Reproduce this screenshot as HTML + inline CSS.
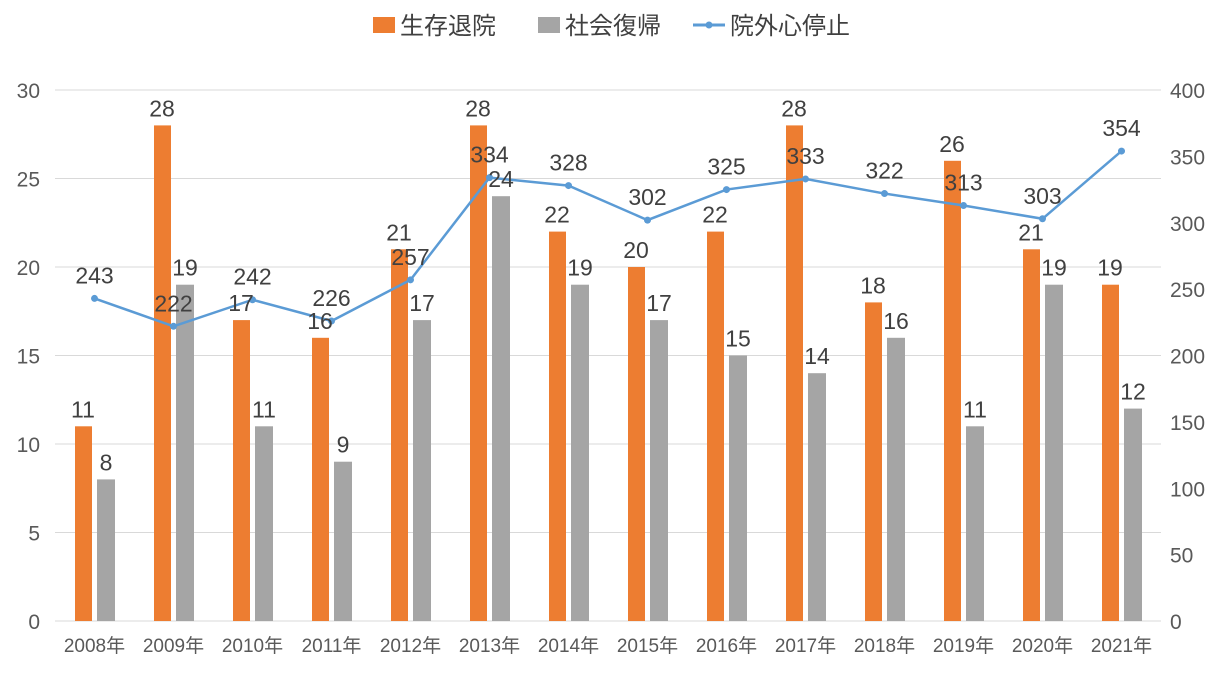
<!DOCTYPE html>
<html><head><meta charset="utf-8"><style>
body{margin:0;background:#fff;}
svg text{font-family:"Liberation Sans","Noto Sans CJK JP",sans-serif;}
</style></head><body>
<svg width="1222" height="677" xmlns="http://www.w3.org/2000/svg">
<g font-size="24" fill="#404040">
 <rect x="373" y="17" width="22" height="16" fill="#ED7D31"/>
 <text x="400" y="34">生存退院</text>
 <rect x="538" y="17" width="22" height="16" fill="#A5A5A5"/>
 <text x="565" y="34">社会復帰</text>
 <line x1="693" y1="25" x2="725" y2="25" stroke="#5B9BD5" stroke-width="3"/>
 <circle cx="709" cy="25" r="3.5" fill="#5B9BD5"/>
 <text x="730" y="34">院外心停止</text>
</g>
<g id="grid"></g><g id="bars"></g><g id="line"></g><g id="labels"></g>
</svg>
<script>
const categories=["2008年","2009年","2010年","2011年","2012年","2013年","2014年","2015年","2016年","2017年","2018年","2019年","2020年","2021年"];
const survival=[11,28,17,16,21,28,22,20,22,28,18,26,21,19];
const socialReturn=[8,19,11,9,17,24,19,17,15,14,16,11,19,12];
const arrest=[243,222,242,226,257,334,328,302,325,333,322,313,303,354];
const leftTicks=[0,5,10,15,20,25,30];
const rightTicks=[0,50,100,150,200,250,300,350,400];
const NS="http://www.w3.org/2000/svg";
const x0=55,cw=79,yb=621,yt=90;
const yL=v=>yb-(v/30)*(yb-yt);
const yR=v=>yb-(v/400)*(yb-yt);
function mk(tag,attrs,parent,txt){const e=document.createElementNS(NS,tag);for(const k in attrs)e.setAttribute(k,attrs[k]);if(txt!==undefined)e.textContent=txt;document.getElementById(parent).appendChild(e);return e;}
leftTicks.forEach(t=>{
 const l=mk('line',{x1:x0,x2:x0+14*cw,y1:yL(t),y2:yL(t),stroke:'#D9D9D9','stroke-width':1},'grid');
 
 
 const tx=mk('text',{x:40,y:yL(t)+8,'text-anchor':'end','font-size':21,fill:'#595959'},'grid',t);
 
 
});
rightTicks.forEach(t=>{
 const tx=mk('text',{x:1170,y:yR(t)+8,'font-size':21,fill:'#595959'},'grid',t);
 
 
});
categories.forEach((c,i)=>{
 const cx=x0+i*cw;
 const t=mk('text',{x:cx+cw/2,y:652,'text-anchor':'middle','font-size':19,fill:'#595959'},'grid',c);
 
 
 const b1=mk('rect',{x:cx+20,y:yL(survival[i]),width:17,height:yb-yL(survival[i]),fill:'#ED7D31'},'bars');
 
 
 const b2=mk('rect',{x:cx+42,y:yL(socialReturn[i]),width:18,height:yb-yL(socialReturn[i]),fill:'#A5A5A5'},'bars');
 
 
 const l1=mk('text',{x:cx+28,y:yL(survival[i])-9,'text-anchor':'middle','font-size':23,fill:'#404040'},'labels',survival[i]);
 
 
 const l2=mk('text',{x:cx+51,y:yL(socialReturn[i])-9,'text-anchor':'middle','font-size':23,fill:'#404040'},'labels',socialReturn[i]);
 
 
});
const pts=arrest.map((v,i)=>[x0+i*cw+cw/2,yR(v)]);
const pl=mk('polyline',{points:pts.map(p=>p.join(',')).join(' '),fill:'none',stroke:'#5B9BD5','stroke-width':2.5},'line');


pts.forEach((p,i)=>{
 const c=mk('circle',{cx:p[0],cy:p[1],r:3.5,fill:'#5B9BD5'},'line');
 
 
 const t=mk('text',{x:p[0],y:p[1]-15,'text-anchor':'middle','font-size':23,fill:'#404040'},'labels',arrest[i]);
 
 
});
</script>
</body></html>
